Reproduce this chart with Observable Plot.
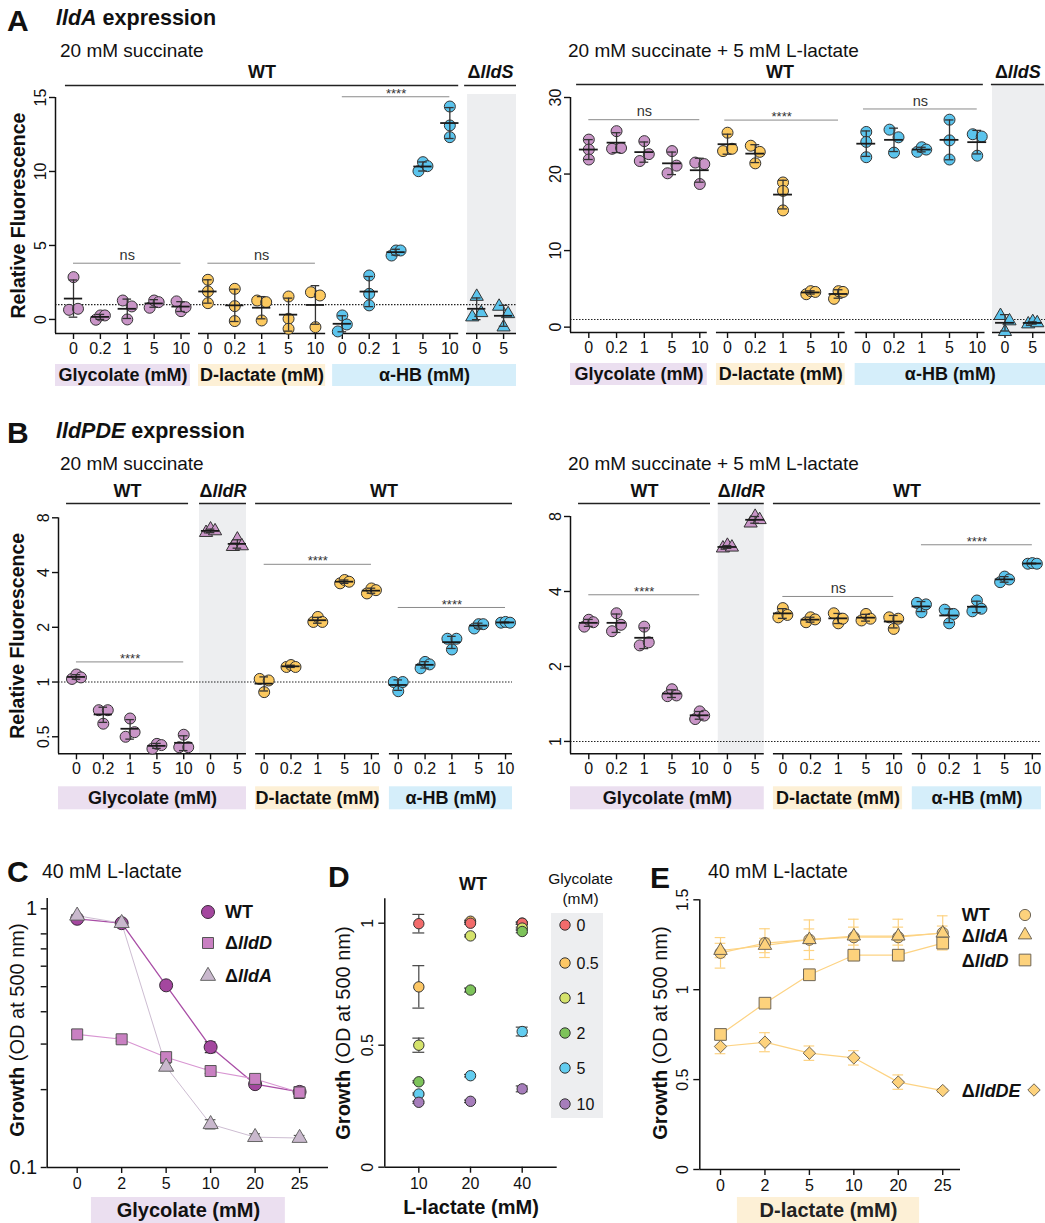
<!DOCTYPE html>
<html><head><meta charset="utf-8">
<script src="https://cdn.jsdelivr.net/npm/d3@7"></script>
<script src="https://cdn.jsdelivr.net/npm/@observablehq/plot@0.6"></script>
<style>
body{margin:0;background:#fff;}
#fig{position:relative;width:1045px;height:1223px;overflow:hidden;font-family:"Liberation Sans",Arial,Helvetica,sans-serif;color:#111;background:#fff;}
.abs{position:absolute;white-space:nowrap;line-height:1;}
</style></head><body><div id="fig"></div>
<script>
// ================= DATA =================
const concLevels = ["0", "0.2", "1", "5", "10"];
const mutantLevels = ["0", "5"];

// A: lldA expression, 20 mM succinate (relative fluorescence, 3 replicates)
const aSuc_glycolate = [[0.65, 2.86, 0.72], [-0.02, 0.27, 0.27], [1.28, 0.0, 0.88], [0.79, 1.28, 1.17], [1.22, 0.56, 0.83]];
const aSuc_dlactate  = [[2.68, 1.89, 1.1], [2.07, 0.9, -0.11], [1.28, -0.07, 1.17], [1.55, 0.05, -0.63], [1.84, -0.52, 1.62]];
const aSuc_ahb       = [[0.27, -0.81, -0.34], [2.97, 1.73, 0.95], [4.32, 4.66, 4.66], [10.02, 10.63, 10.36], [14.39, 13.11, 12.32]];
const aSuc_lldS      = [[0.16, 1.55, 0.45], [0.88, -0.52, 0.38]];
const aSuc_sig       = ["ns", "ns", "****"];

// A: lldA expression, 20 mM succinate + 5 mM L-lactate
const aLac_glycolate = [[24.5, 23.2, 21.9], [23.3, 25.6, 23.4], [21.7, 24.3, 22.6], [20.1, 23.0, 21.1], [21.5, 18.7, 21.3]];
const aLac_dlactate  = [[23.0, 25.4, 23.3], [23.7, 21.4, 22.9], [18.9, 17.8, 15.25], [4.3, 4.7, 4.6], [3.7, 4.7, 4.6]];
const aLac_ahb       = [[25.5, 24.2, 22.2], [25.8, 22.8, 24.8], [22.9, 23.5, 23.2], [27.1, 24.4, 21.9], [25.2, 22.4, 24.9]];
const aLac_lldS      = [[1.5, -0.6, 0.8], [0.4, 0.7, 0.55]];
const aLac_sig       = ["ns", "****", "ns"];

// B: lldPDE expression, 20 mM succinate
const bSuc_glycolate = [[1.04, 1.10, 1.06], [0.70, 0.59, 0.70], [0.50, 0.63, 0.53], [0.43, 0.457, 0.45], [0.438, 0.513, 0.438]];
const bSuc_lldR      = [[6.63, 6.93, 6.77], [5.55, 6.1, 5.6]];
const bSuc_dlactate  = [[1.04, 0.88, 1.02], [1.21, 1.24, 1.21], [2.14, 2.28, 2.14], [3.49, 3.64, 3.56], [3.07, 3.27, 3.2]];
const bSuc_ahb       = [[1.0, 0.89, 1.0], [1.19, 1.29, 1.25], [1.73, 1.51, 1.73], [1.97, 2.08, 2.08], [2.12, 2.14, 2.12]];
const bSuc_sig       = ["****", "****", "****"];

// B: lldPDE expression, 20 mM succinate + 5 mM L-lactate
const bLac_glycolate = [[2.89, 3.08, 3.01], [2.77, 3.27, 2.94], [2.43, 2.89, 2.50], [1.52, 1.62, 1.53], [1.23, 1.32, 1.27]];
const bLac_lldR      = [[5.97, 6.12, 6.02], [7.52, 8.0, 7.76]];
const bLac_dlactate  = [[3.15, 3.43, 3.22], [3.01, 3.15, 3.09], [3.27, 2.98, 3.11], [3.06, 3.25, 3.11], [3.15, 2.83, 3.11]];
const bLac_ahb       = [[3.60, 3.30, 3.55], [3.38, 2.98, 3.25], [3.68, 3.33, 3.41], [4.36, 4.59, 4.47], [5.17, 5.2, 5.17]];
const bLac_sig       = ["****", "ns", "****"];

// C: growth on 40 mM L-lactate vs glycolate (OD500)
const cConc = ["0", "2", "5", "10", "20", "25"];
const cWT      = [0.915, 0.88, 0.506, 0.292, 0.21, 0.196];
const cWT_sd   = [0.012, 0.01, 0.012, 0.014, 0.006, 0.008];
const cLldD    = [0.327, 0.313, 0.267, 0.236, 0.22, 0.195];
const cLldD_sd = [0.013, 0.005, 0.006, 0.005, 0.006, 0.01];
const cLldA    = [0.94, 0.88, 0.245, 0.147, 0.131, 0.13];
const cLldA_sd = [0.01, 0.01, 0.008, 0.006, 0.004, 0.003];

// D: WT growth vs L-lactate, for each glycolate level
const dLactate   = ["10", "20", "40"];
const dGlycolate = ["0", "0.5", "1", "2", "5", "10"];
const dG0    = [0.998, 1.0, 1.0];     const dG0_sd   = [0.038, 0.004, 0.005];
const dG05   = [0.739, 1.008, 1.0];   const dG05_sd  = [0.087, 0.004, 0.004];
const dG1    = [0.5, 0.948, 0.98];    const dG1_sd   = [0.029, 0.004, 0.004];
const dG2    = [0.35, 0.726, 0.966];  const dG2_sd   = [0.004, 0.008, 0.005];
const dG5    = [0.30, 0.375, 0.556];  const dG5_sd   = [0.004, 0.005, 0.018];
const dG10   = [0.266, 0.27, 0.321];  const dG10_sd  = [0.004, 0.005, 0.012];

// E: growth on 40 mM L-lactate vs D-lactate (OD500)
const eConc = ["0", "2", "5", "10", "20", "25"];
const eWT      = [1.205, 1.259, 1.278, 1.292, 1.292, 1.316];
const eWT_sd   = [0.085, 0.08, 0.11, 0.1, 0.1, 0.095];
const eLldA    = [1.218, 1.246, 1.278, 1.298, 1.298, 1.314];
const eLldA_sd = [0.04, 0.04, 0.06, 0.05, 0.05, 0.04];
const eLldD    = [0.751, 0.925, 1.083, 1.192, 1.192, 1.259];
const eLldD_sd = [0.03, 0.025, 0.03, 0.03, 0.03, 0.03];
const eLldDE   = [0.684, 0.708, 0.647, 0.621, 0.486, 0.439];
const eLldDE_sd= [0.04, 0.053, 0.04, 0.04, 0.04, 0.01];

// ================= STYLE =================
const FONT = '"Liberation Sans", Arial, Helvetica, sans-serif';
const PURPLE = "#c995c7", YELLOW = "#fcc95f", BLUE = "#5bc4ed";
const BOX_PURPLE = "#ebdff0", BOX_YELLOW = "#fdf0d6", BOX_BLUE = "#d5eefa", GREY = "#edeef0";
const fig = document.getElementById("fig");

function txt(html, x, y, o = {}) {
  const d = document.createElement("div");
  d.className = "abs";
  d.innerHTML = html;
  d.style.left = x + "px"; d.style.top = y + "px";
  d.style.fontSize = (o.size || 16) + "px";
  d.style.fontWeight = o.weight || "normal";
  d.style.color = o.color || "#111";
  const tx = o.align === "middle" ? "-50%" : "0";
  d.style.transform = `translate(${tx},-50%)` + (o.rotate ? " rotate(-90deg)" : "");
  fig.appendChild(d);
}
function sym(type, r, fill, stroke, x, y) {
  const ns = "http://www.w3.org/2000/svg";
  const s = document.createElementNS(ns, "svg");
  s.setAttribute("width", 30); s.setAttribute("height", 30);
  s.style.position = "absolute"; s.style.left = (x - 15) + "px"; s.style.top = (y - 15) + "px";
  const p = document.createElementNS(ns, "path");
  const types = {circle: d3.symbolCircle, square: d3.symbolSquare, triangle: d3.symbolTriangle, diamond2: d3.symbolDiamond2};
  p.setAttribute("d", d3.symbol(types[type], Math.PI * r * r)());
  p.setAttribute("transform", "translate(15,15)");
  p.setAttribute("fill", fill); p.setAttribute("stroke", stroke); p.setAttribute("stroke-width", 1);
  s.appendChild(p); fig.appendChild(s);
}
function place(svg, left, top) {
  svg.style.position = "absolute"; svg.style.left = left + "px"; svg.style.top = top + "px";
  svg.style.background = "transparent"; svg.style.overflow = "visible"; svg.style.maxWidth = "none";
  svg.querySelectorAll("text").forEach(t => {
    const m = t.textContent.match(/^Δ(lld\w+)$/);
    if (m && t.children.length === 0) t.innerHTML = `Δ<tspan font-style="italic">${m[1]}</tspan>`;
  });
  fig.appendChild(svg);
}
function dodge(vals, yS, thr = 8, spread = 9) {
  const n = vals.length, py = vals.map(v => yS(v));
  const parent = d3.range(n);
  const find = a => parent[a] === a ? a : (parent[a] = find(parent[a]));
  for (let i = 0; i < n; i++) for (let j = i + 1; j < n; j++)
    if (Math.abs(py[i] - py[j]) < thr) parent[find(i)] = find(j);
  const comps = d3.groups(d3.range(n), i => find(i)).map(d => d[1]);
  const off = new Array(n).fill(0);
  for (const c of comps) if (c.length > 1) c.forEach((i, k) => off[i] = -spread / 2 + spread * k / (c.length - 1));
  return off;
}
function margins(left, top, width, height, f) {
  return {marginLeft: f[0] - left, marginRight: left + width - f[1], marginTop: f[2] - top, marginBottom: top + height - f[3]};
}
function rotTicks(ticks, dx) {
  return Plot.text(ticks, {y: d => d, text: d => String(d), frameAnchor: "left", textAnchor: "middle", lineAnchor: "middle", dx, rotate: -90, fontSize: 16});
}

// ================= EXPRESSION PANELS (A, B) =================
function exprPanel(cfg) {
  const [fx0, fx1, fy0, fy1] = cfg.frame;
  const yS = (cfg.yType === "log" ? d3.scaleLog() : d3.scaleLinear()).domain(cfg.yDomain).range([fy1, fy0]);
  const ppu = (fx1 - fx0) / (cfg.xDomain[1] - cfg.xDomain[0]);
  const yBot = cfg.yDomain[0], yTop = cfg.yDomain[1];
  const mid = d => (d[0] + d[1]) / 2;
  const sig = cfg.sig.map((s, k) => ({x1: s[0], x2: s[1], y: s[2], t: cfg.sigLabels[k]}));
  const marks = [
    Plot.rect(cfg.grey, {x1: d => d[0], x2: d => d[1], y1: yBot, y2: yTop, fill: GREY, insetTop: -cfg.greyExt}),
    Plot.rect(cfg.boxes, {x1: d => d[0], x2: d => d[1], y1: yBot, y2: yBot, insetTop: cfg.boxT, insetBottom: -cfg.boxB, fill: d => d[3]}),
    Plot.text(cfg.boxes, {x: mid, y: yBot, dy: (cfg.boxT + cfg.boxB) / 2, text: d => d[2], fontSize: 18, fontWeight: "bold"}),
    Plot.ruleY([1], {stroke: "#222", strokeDasharray: "1.5,1.5", strokeWidth: 1.1}),
    Plot.ruleY(sig, {x1: "x1", x2: "x2", y: "y", stroke: "#8a8a8a", strokeWidth: 1}),
    Plot.text(sig, {filter: d => d.t === "ns", x: d => (d.x1 + d.x2) / 2, y: "y", text: "t", dy: -8, fontSize: 14.5, fill: "#333"}),
    Plot.text(sig, {filter: d => d.t !== "ns", x: d => (d.x1 + d.x2) / 2, y: "y", text: "t", dy: -3, fontSize: 13, fill: "#333"}),
    Plot.ruleY(cfg.headers, {x1: d => d[0], x2: d => d[1], y: yTop, dy: cfg.hDy, stroke: "#222", strokeWidth: 1.5}),
    Plot.text(cfg.headers, {x: mid, y: yTop, dy: cfg.hTextDy, text: d => d[2], fontSize: 18, fontWeight: "bold"}),
    Plot.ruleX([cfg.xDomain[0]], {y1: yBot, y2: yTop, stroke: "#111", strokeWidth: 1.5}),
    Plot.ruleY(cfg.segments, {x1: d => d[0], x2: d => d[1], y: yBot, stroke: "#111", strokeWidth: 1.5}),
    Plot.axisX({ticks: d3.range(cfg.xLabels.length), tickFormat: i => cfg.xLabels[i], tickSize: 6, tickPadding: 3, fontSize: 16, strokeWidth: 1.4, label: null}),
    Plot.axisY({ticks: cfg.yTicks, tickFormat: () => "", tickSize: 6, strokeWidth: 1.4, label: null}),
    rotTicks(cfg.yTicks, -15)
  ];
  if (cfg.yLabel) marks.push(Plot.text([cfg.yLabel], {frameAnchor: "left", textAnchor: "middle", lineAnchor: "middle", dx: cfg.yLabelDx, rotate: -90, fontSize: 19.5, fontWeight: "bold"}));
  cfg.groups.forEach(g => {
    const pts = [], stats = [];
    g.values.forEach((reps, j) => {
      const i = g.start + j, off = dodge(reps, yS);
      reps.forEach((v, r) => pts.push({x: i + off[r] / ppu, v}));
      stats.push({i, m: d3.mean(reps), s: d3.deviation(reps)});
    });
    marks.push(Plot.dot(pts, {x: "x", y: "v", r: g.symbol === "triangle" ? 4.9 : 5.5, symbol: g.symbol, fill: g.color, stroke: "#333", strokeWidth: 1}));
    marks.push(Plot.ruleX(stats, {x: "i", y1: d => d.m - d.s, y2: d => d.m + d.s, stroke: "#333", strokeWidth: 1.3}));
    marks.push(Plot.ruleY(stats, {x1: d => d.i - 0.16, x2: d => d.i + 0.16, y: d => d.m + d.s, stroke: "#333", strokeWidth: 1.3}));
    marks.push(Plot.ruleY(stats, {x1: d => d.i - 0.16, x2: d => d.i + 0.16, y: d => d.m - d.s, stroke: "#333", strokeWidth: 1.3}));
    marks.push(Plot.ruleY(stats, {x1: d => d.i - 0.34, x2: d => d.i + 0.34, y: "m", stroke: "#1a1a1a", strokeWidth: 1.8}));
  });
  const svg = Plot.plot({
    width: cfg.width, height: cfg.height, ...margins(cfg.left, cfg.top, cfg.width, cfg.height, cfg.frame),
    x: {type: "linear", domain: cfg.xDomain, axis: null},
    y: {type: cfg.yType, domain: cfg.yDomain, axis: null},
    color: {type: "identity"},
    style: {fontFamily: FONT, color: "#111", background: "transparent", overflow: "visible"},
    marks
  });
  place(svg, cfg.left, cfg.top);
}

const xLabelsA = [...concLevels, ...concLevels, ...concLevels, ...mutantLevels];
const xLabelsB = [...concLevels, ...mutantLevels, ...concLevels, ...concLevels];

exprPanel({
  left: 0, top: 55, width: 530, height: 340, frame: [55, 516, 97, 333],
  xDomain: [-0.67, 16.48], yType: "linear", yDomain: [-0.95, 15], yTicks: [0, 5, 10, 15],
  xLabels: xLabelsA, yLabel: "Relative Fluorescence", yLabelDx: -37,
  groups: [
    {values: aSuc_glycolate, start: 0, color: PURPLE, symbol: "circle"},
    {values: aSuc_dlactate, start: 5, color: YELLOW, symbol: "circle"},
    {values: aSuc_ahb, start: 10, color: BLUE, symbol: "circle"},
    {values: aSuc_lldS, start: 15, color: BLUE, symbol: "triangle"}
  ],
  grey: [[14.66, 16.48]], greyExt: 3,
  headers: [[-0.3, 14.33, "WT"], [14.55, 16.48, "ΔlldS"]], hDy: -12, hTextDy: -25,
  segments: [[-0.67, 4.35], [4.65, 9.38], [9.64, 14.33], [14.62, 16.48]],
  boxes: [[-0.67, 4.35, "Glycolate (mM)", BOX_PURPLE], [4.65, 9.38, "D-lactate (mM)", BOX_YELLOW], [9.64, 16.48, "α-HB (mM)", BOX_BLUE]],
  boxT: 31, boxB: 53,
  sig: [[0, 4, 3.8], [5, 9, 3.8], [10, 14, 15.05]], sigLabels: aSuc_sig
});

exprPanel({
  left: 530, top: 55, width: 515, height: 340, frame: [570, 1045, 97, 332],
  xDomain: [-0.66, 16.46], yType: "linear", yDomain: [-0.7, 30], yTicks: [0, 10, 20, 30],
  xLabels: xLabelsA,
  groups: [
    {values: aLac_glycolate, start: 0, color: PURPLE, symbol: "circle"},
    {values: aLac_dlactate, start: 5, color: YELLOW, symbol: "circle"},
    {values: aLac_ahb, start: 10, color: BLUE, symbol: "circle"},
    {values: aLac_lldS, start: 15, color: BLUE, symbol: "triangle"}
  ],
  grey: [[14.55, 16.46]], greyExt: 13,
  headers: [[-0.44, 14.22, "WT"], [14.51, 16.42, "ΔlldS"]], hDy: -13, hTextDy: -25,
  segments: [[-0.66, 4.27], [4.6, 9.24], [9.6, 14.28], [14.55, 16.46]],
  boxes: [[-0.66, 4.27, "Glycolate (mM)", BOX_PURPLE], [4.6, 9.24, "D-lactate (mM)", BOX_YELLOW], [9.6, 16.46, "α-HB (mM)", BOX_BLUE]],
  boxT: 31, boxB: 53,
  sig: [[0, 4, 27.1], [4.9, 9, 27.05], [9.9, 14, 28.5]], sigLabels: aLac_sig
});

exprPanel({
  left: 0, top: 470, width: 530, height: 345, frame: [58, 512, 517.3, 753.3],
  xDomain: [-0.67, 16.26], yType: "log", yDomain: [0.403, 8], yTicks: [0.5, 1, 2, 4, 8],
  xLabels: xLabelsB, yLabel: "Relative Fluorescence", yLabelDx: -41,
  groups: [
    {values: bSuc_glycolate, start: 0, color: PURPLE, symbol: "circle"},
    {values: bSuc_lldR, start: 5, color: PURPLE, symbol: "triangle"},
    {values: bSuc_dlactate, start: 7, color: YELLOW, symbol: "circle"},
    {values: bSuc_ahb, start: 12, color: BLUE, symbol: "circle"}
  ],
  grey: [[4.59, 6.34]], greyExt: 14.3,
  headers: [[-0.37, 4.18, "WT"], [4.59, 6.34, "ΔlldR"], [6.68, 16.26, "WT"]], hDy: -14.3, hTextDy: -26.3,
  segments: [[-0.67, 6.34], [6.68, 11.3], [11.67, 16.26]],
  boxes: [[-0.67, 6.34, "Glycolate (mM)", BOX_PURPLE], [6.68, 11.3, "D-lactate (mM)", BOX_YELLOW], [11.67, 16.26, "α-HB (mM)", BOX_BLUE]],
  boxT: 33, boxB: 56,
  sig: [[0, 4, 1.29], [7, 11, 4.44], [12, 16, 2.57]], sigLabels: bSuc_sig
});

exprPanel({
  left: 530, top: 470, width: 515, height: 345, frame: [570, 1041, 516, 753.3],
  xDomain: [-0.66, 16.33], yType: "log", yDomain: [0.892, 8], yTicks: [1, 2, 4, 8],
  xLabels: xLabelsB,
  groups: [
    {values: bLac_glycolate, start: 0, color: PURPLE, symbol: "circle"},
    {values: bLac_lldR, start: 5, color: PURPLE, symbol: "triangle"},
    {values: bLac_dlactate, start: 7, color: YELLOW, symbol: "circle"},
    {values: bLac_ahb, start: 12, color: BLUE, symbol: "circle"}
  ],
  grey: [[4.67, 6.33]], greyExt: 13,
  headers: [[-0.37, 4.39, "WT"], [4.67, 6.33, "ΔlldR"], [6.66, 16.3, "WT"]], hDy: -13, hTextDy: -25,
  segments: [[-0.66, 6.33], [6.66, 11.32], [11.67, 16.33]],
  boxes: [[-0.66, 6.33, "Glycolate (mM)", BOX_PURPLE], [6.66, 11.32, "D-lactate (mM)", BOX_YELLOW], [11.67, 16.33, "α-HB (mM)", BOX_BLUE]],
  boxT: 33, boxB: 56,
  sig: [[0, 4, 3.88], [7, 11, 3.82], [12, 16, 6.16]], sigLabels: bLac_sig
});

// ================= GROWTH PANELS (C, D, E) =================
function seriesMarks(series, capHalf, errColor) {
  const lines = [], bars = [], dots = [];
  series.forEach(s => {
    const rows = s.vals.map((v, i) => ({i, v, s: s.sd[i]}));
    if (s.line) lines.push(Plot.line(rows, {x: "i", y: "v", stroke: s.line, strokeWidth: s.lw}));
    const ec = s.err || errColor;
    bars.push(Plot.ruleX(rows, {x: "i", y1: d => d.v - d.s, y2: d => d.v + d.s, stroke: ec, strokeWidth: 1.2}));
    bars.push(Plot.ruleY(rows, {x1: d => d.i - capHalf, x2: d => d.i + capHalf, y: d => d.v + d.s, stroke: ec, strokeWidth: 1.2}));
    bars.push(Plot.ruleY(rows, {x1: d => d.i - capHalf, x2: d => d.i + capHalf, y: d => d.v - d.s, stroke: ec, strokeWidth: 1.2}));
    dots.push(Plot.dot(rows, {x: "i", y: "v", symbol: s.symbol, r: s.r, fill: s.fill, stroke: s.stroke || "#333", strokeWidth: 1}));
  });
  return [...lines, ...bars, ...dots];
}

// ---- C ----
(function () {
  const left = 0, top = 880, width = 335, height = 343, frame = [46.7, 328, 898, 1167];
  const xDom = [-0.674, 5.65], yDom = [0.1, 1.096];
  const series = [
    {vals: cWT, sd: cWT_sd, symbol: "circle", r: 6.5, fill: "#a4479f", stroke: "#3a2a3a", line: "#a94ea6", lw: 1.3, err: "#333"},
    {vals: cLldD, sd: cLldD_sd, symbol: "square", r: 6.2, fill: "#c980c2", stroke: "#555", line: "#d895d2", lw: 1.1, err: "#333"},
    {vals: cLldA, sd: cLldA_sd, symbol: "triangle", r: 5.6, fill: "#c9b8cd", stroke: "#666", line: "#cdbdd2", lw: 1, err: "#555"}
  ];
  const svg = Plot.plot({
    width, height, ...margins(left, top, width, height, frame),
    x: {type: "linear", domain: xDom, axis: null},
    y: {type: "log", domain: yDom, axis: null},
    style: {fontFamily: FONT, color: "#111", background: "transparent", overflow: "visible"},
    marks: [
      Plot.rect([[0.32, 4.68]], {x1: d => d[0], x2: d => d[1], y1: 0.1, y2: 0.1, insetTop: 30, insetBottom: -56, fill: BOX_PURPLE}),
      Plot.text(["Glycolate (mM)"], {x: 2.5, y: 0.1, dy: 43, text: d => d, fontSize: 20, fontWeight: "bold"}),
      Plot.ruleX([xDom[0]], {y1: yDom[0], y2: yDom[1], stroke: "#111", strokeWidth: 1.5}),
      Plot.ruleY([yDom[0]], {x1: xDom[0], x2: xDom[1], stroke: "#111", strokeWidth: 1.5}),
      Plot.axisX({ticks: d3.range(cConc.length), tickFormat: i => cConc[i], tickSize: 6, tickPadding: 4, fontSize: 16, strokeWidth: 1.4, label: null}),
      Plot.axisY({ticks: [0.1, 1], tickFormat: d => String(d), tickSize: 6, tickPadding: 4, fontSize: 20, strokeWidth: 1.4, label: null}),
      Plot.axisY({ticks: [0.2, 0.3, 0.4, 0.5, 0.6, 0.7, 0.8], tickFormat: () => "", tickSize: 6, strokeWidth: 1.4, label: null}),
      ...seriesMarks(series, 0.12, "#333")
    ]
  });
  place(svg, left, top);
  sym("circle", 6.5, "#a4479f", "#3a2a3a", 208, 911.7);
  sym("square", 6.2, "#c980c2", "#555", 208, 943.3);
  sym("triangle", 5.6, "#c9b8cd", "#666", 208, 975.5);
  txt("WT", 225, 911.7, {size: 18, weight: "bold"});
  txt("Δ<i>lldD</i>", 225, 943.3, {size: 18, weight: "bold"});
  txt("Δ<i>lldA</i>", 225, 976, {size: 18, weight: "bold"});
})();

// ---- D ----
(function () {
  const left = 330, top = 880, width = 290, height = 343, frame = [384.3, 556.7, 898.3, 1166.7];
  const xDom = [-0.658, 2.677], yDom = [0, 1.1];
  const colors = ["#f26b6b", "#fdc765", "#d5e36b", "#7dc35a", "#62cdf0", "#a67dbb"];
  const vals = [dG0, dG05, dG1, dG2, dG5, dG10], sds = [dG0_sd, dG05_sd, dG1_sd, dG2_sd, dG5_sd, dG10_sd];
  const order = [1, 0, 2, 3, 4, 5];
  const series = order.map(k => ({vals: vals[k], sd: sds[k], symbol: "circle", r: 5.2, fill: colors[k], stroke: "#333"}));
  const svg = Plot.plot({
    width, height, ...margins(left, top, width, height, frame),
    x: {type: "linear", domain: xDom, axis: null},
    y: {type: "linear", domain: yDom, axis: null},
    style: {fontFamily: FONT, color: "#111", background: "transparent", overflow: "visible"},
    marks: [
      Plot.ruleX([xDom[0]], {y1: yDom[0], y2: yDom[1], stroke: "#111", strokeWidth: 1.5}),
      Plot.ruleY([yDom[0]], {x1: xDom[0], x2: xDom[1], stroke: "#111", strokeWidth: 1.5}),
      Plot.axisX({ticks: d3.range(dLactate.length), tickFormat: i => dLactate[i], tickSize: 6, tickPadding: 4, fontSize: 16, strokeWidth: 1.4, label: null}),
      Plot.axisY({ticks: [0, 0.5, 1], tickFormat: () => "", tickSize: 6, strokeWidth: 1.4, label: null}),
      rotTicks([0, 0.5, 1], -17),
      Plot.text(["L-lactate (mM)"], {frameAnchor: "bottom", lineAnchor: "middle", dy: 40, text: d => d, fontSize: 20, fontWeight: "bold"}),
      ...seriesMarks(series, 0.115, "#444")
    ]
  });
  place(svg, left, top);
  txt("WT", 473, 884, {size: 18, weight: "bold", align: "middle"});
  txt("Glycolate", 580.5, 879, {size: 15.5, align: "middle"});
  txt("(mM)", 580.5, 898.5, {size: 15.5, align: "middle"});
  const box = document.createElement("div");
  box.style.cssText = `position:absolute;left:551px;top:913px;width:52px;height:205px;background:${GREY};`;
  fig.appendChild(box);
  const ly = [925, 962.7, 997.5, 1033.3, 1068.3, 1104];
  dGlycolate.forEach((g, k) => { sym("circle", 5.2, colors[k], "#333", 565, ly[k]); txt(g, 576.5, ly[k] + 1, {size: 16}); });
})();

// ---- E ----
(function () {
  const left = 620, top = 880, width = 425, height = 343, frame = [699.3, 960, 899.3, 1169];
  const xDom = [-0.466, 5.4], yDom = [0, 1.5];
  const FILL = "#fdd27c", STROKE = "#6f6657", LINE = "#fdd383";
  const series = [
    {vals: eWT, sd: eWT_sd, symbol: "circle", r: 5.6, fill: FILL, stroke: STROKE, line: LINE, lw: 1.2},
    {vals: eLldA, sd: eLldA_sd, symbol: "triangle", r: 5, fill: FILL, stroke: STROKE, line: LINE, lw: 1.2},
    {vals: eLldD, sd: eLldD_sd, symbol: "square", r: 6.6, fill: FILL, stroke: STROKE, line: LINE, lw: 1.2},
    {vals: eLldDE, sd: eLldDE_sd, symbol: "diamond2", r: 5.6, fill: FILL, stroke: STROKE, line: LINE, lw: 1.2}
  ];
  const svg = Plot.plot({
    width, height, ...margins(left, top, width, height, frame),
    x: {type: "linear", domain: xDom, axis: null},
    y: {type: "linear", domain: yDom, axis: null},
    style: {fontFamily: FONT, color: "#111", background: "transparent", overflow: "visible"},
    marks: [
      Plot.rect([[0.38, 4.48]], {x1: d => d[0], x2: d => d[1], y1: 0, y2: 0, insetTop: 28, insetBottom: -54, fill: BOX_YELLOW}),
      Plot.text(["D-lactate (mM)"], {x: 2.43, y: 0, dy: 41, text: d => d, fontSize: 20, fontWeight: "bold", fill: "#222"}),
      Plot.ruleX([xDom[0]], {y1: yDom[0], y2: yDom[1], stroke: "#111", strokeWidth: 1.5}),
      Plot.ruleY([yDom[0]], {x1: xDom[0], x2: xDom[1], stroke: "#111", strokeWidth: 1.5}),
      Plot.axisX({ticks: d3.range(eConc.length), tickFormat: i => eConc[i], tickSize: 6, tickPadding: 4, fontSize: 16, strokeWidth: 1.4, label: null}),
      Plot.axisY({ticks: [0, 0.5, 1, 1.5], tickFormat: () => "", tickSize: 6, strokeWidth: 1.4, label: null}),
      rotTicks([0, 0.5, 1, 1.5], -17),
      ...seriesMarks(series, 0.12, LINE)
    ]
  });
  place(svg, left, top);
  sym("circle", 5.6, FILL, STROKE, 1025, 914.5);
  sym("triangle", 5, FILL, STROKE, 1025, 935);
  sym("square", 6.6, FILL, STROKE, 1025, 960);
  sym("diamond2", 5.6, FILL, STROKE, 1034, 1090);
  txt("WT", 961.7, 915, {size: 18, weight: "bold"});
  txt("Δ<i>lldA</i>", 961.7, 936, {size: 18, weight: "bold"});
  txt("Δ<i>lldD</i>", 961.7, 960.5, {size: 18, weight: "bold"});
  txt("Δ<i>lldDE</i>", 961.7, 1090.5, {size: 18, weight: "bold"});
})();

// ================= TITLES & LABELS =================
txt("A", 7, 21, {size: 30, weight: "bold"});
txt("<i>lldA</i> expression", 56, 18.5, {size: 21.5, weight: "bold"});
txt("20 mM succinate", 60, 50, {size: 19});
txt("20 mM succinate + 5 mM L-lactate", 568, 50, {size: 19});
txt("B", 7, 433, {size: 30, weight: "bold"});
txt("<i>lldPDE</i> expression", 56, 432, {size: 21.5, weight: "bold"});
txt("20 mM succinate", 60, 463, {size: 19});
txt("20 mM succinate + 5 mM L-lactate", 568, 463, {size: 19});
txt("C", 7, 872, {size: 30, weight: "bold"});
txt("40 mM L-lactate", 42, 872, {size: 19.5});
txt("D", 328, 877, {size: 30, weight: "bold"});
txt("E", 650, 878, {size: 30, weight: "bold"});
txt("40 mM L-lactate", 708, 872, {size: 19.5});
txt("<b>Growth</b> (OD at 500 nm)", 17, 1030, {size: 20, align: "middle", rotate: true});
txt("<b>Growth</b> (OD at 500 nm)", 343, 1033, {size: 20, align: "middle", rotate: true});
txt("<b>Growth</b> (OD at 500 nm)", 660, 1033, {size: 20, align: "middle", rotate: true});
</script></body></html>
